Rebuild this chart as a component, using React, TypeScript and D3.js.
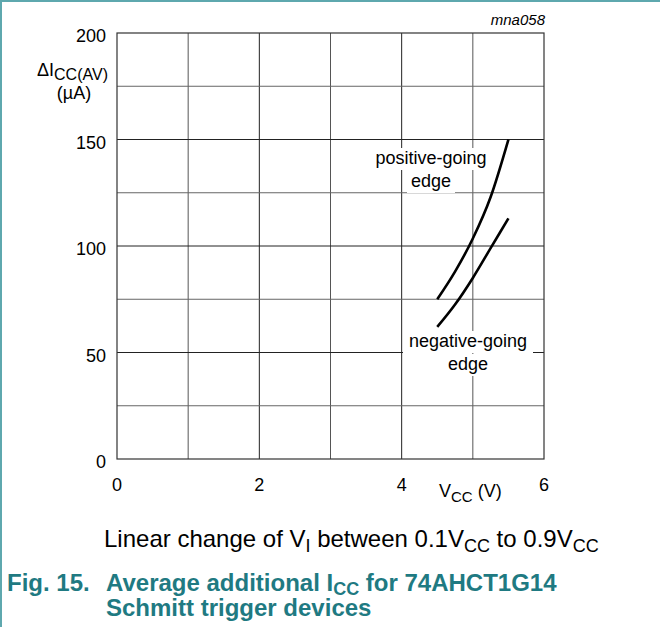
import React from "react";
import * as d3 from "d3";

const xTicks = [0, 2, 4, 6];
const yTicks = [0, 50, 100, 150, 200];
const xGrid = [1, 2, 3, 4, 5];
const yGrid = [25, 50, 75, 100, 125, 150, 175];
const positiveGoing: [number, number][] = [
  [4.5, 75], [4.75, 88], [5.0, 103.5], [5.25, 123], [5.5, 150],
];
const negativeGoing: [number, number][] = [
  [4.5, 62], [4.75, 72.5], [5.0, 85], [5.25, 99], [5.5, 113],
];

const FONT = "'Liberation Sans', Arial, Helvetica, sans-serif";
const TEAL = "#1f7a82";
const BORDER = "#5ea8ae";

export default function App() {
  const x = d3.scaleLinear().domain([0, 6]).range([117, 544]);
  const y = d3.scaleLinear().domain([0, 200]).range([459, 33]);
  const line = d3
    .line<[number, number]>()
    .x((d) => x(d[0]))
    .y((d) => y(d[1]))
    .curve(d3.curveMonotoneX);

  const labelBox = (cx: number, baseline: number, w: number, text: string, key: string) => (
    <g key={key}>
      <rect x={cx - w / 2} y={baseline - 16} width={w} height={22} fill="#fff" />
      <text x={cx} y={baseline} textAnchor="middle" fontSize={18}>
        {text}
      </text>
    </g>
  );

  return (
    <svg
      width={660}
      height={632}
      style={{ position: "absolute", left: 0, top: 0, background: "#fff" }}
      fontFamily={FONT}
    >
      {/* page frame */}
      <line x1={0} y1={1} x2={660} y2={1} stroke={BORDER} strokeWidth={2} />
      <line x1={1} y1={0} x2={1} y2={627} stroke={BORDER} strokeWidth={2} />

      {/* grid */}
      {xGrid.map((v) => (
        <line
          key={"xg" + v}
          x1={x(v)}
          x2={x(v)}
          y1={y(0)}
          y2={y(200)}
          stroke={v % 2 === 0 ? "#222" : "#555"}
          strokeWidth={1}
        />
      ))}
      {yGrid.map((v) => (
        <line
          key={"yg" + v}
          x1={x(0)}
          x2={x(6)}
          y1={y(v)}
          y2={y(v)}
          stroke={v % 50 === 0 ? "#222" : "#666"}
          strokeWidth={1}
        />
      ))}
      <rect
        x={x(0)}
        y={y(200)}
        width={x(6) - x(0)}
        height={y(0) - y(200)}
        fill="none"
        stroke="#333"
        strokeWidth={1.2}
      />

      {/* curve labels with white boxes */}
      {labelBox(431, 164, 120, "positive-going", "p1")}
      {labelBox(431, 187, 48, "edge", "p2")}
      {labelBox(468, 347, 130, "negative-going", "n1")}
      {labelBox(468, 370, 48, "edge", "n2")}

      {/* curves */}
      <path d={line(positiveGoing) || ""} fill="none" stroke="#000" strokeWidth={2.6} />
      <path d={line(negativeGoing) || ""} fill="none" stroke="#000" strokeWidth={2.6} />

      {/* y tick labels */}
      {yTicks.map((v) => (
        <text key={"yt" + v} x={106} y={y(v) + 9} textAnchor="end" fontSize={18}>
          {v}
        </text>
      ))}
      {/* x tick labels */}
      {xTicks.map((v) => (
        <text key={"xt" + v} x={x(v)} y={491} textAnchor="middle" fontSize={18}>
          {v}
        </text>
      ))}

      {/* axis titles */}
      <text x={37} y={76} fontSize={18}>
        ΔI
        <tspan fontSize={16} dy={4}>CC(AV)</tspan>
      </text>
      <text x={74} y={99} textAnchor="middle" fontSize={18}>
        (µA)
      </text>
      <text x={439} y={497} fontSize={18}>
        V<tspan fontSize={15} dy={5}>CC</tspan>
        <tspan dy={-5}> (V)</tspan>
      </text>

      <text x={545} y={25} textAnchor="end" fontSize={15} fontStyle="italic">
        mna058
      </text>

      {/* condition caption */}
      <text x={104} y={547} fontSize={24}>
        Linear change of V<tspan fontSize={18} dy={5}>I</tspan>
        <tspan dy={-5}> between 0.1V</tspan>
        <tspan fontSize={18} dy={5}>CC</tspan>
        <tspan dy={-5}> to 0.9V</tspan>
        <tspan fontSize={18} dy={5}>CC</tspan>
      </text>

      {/* figure caption */}
      <text x={7} y={591} fontSize={24} fontWeight="bold" fill={TEAL}>
        Fig. 15.
      </text>
      <text x={106} y={591} fontSize={24} fontWeight="bold" fill={TEAL}>
        Average additional I<tspan fontSize={18} dy={4}>CC</tspan>
        <tspan dy={-4}> for 74AHCT1G14</tspan>
      </text>
      <text x={106} y={616} fontSize={24} fontWeight="bold" fill={TEAL}>
        Schmitt trigger devices
      </text>
    </svg>
  );
}
